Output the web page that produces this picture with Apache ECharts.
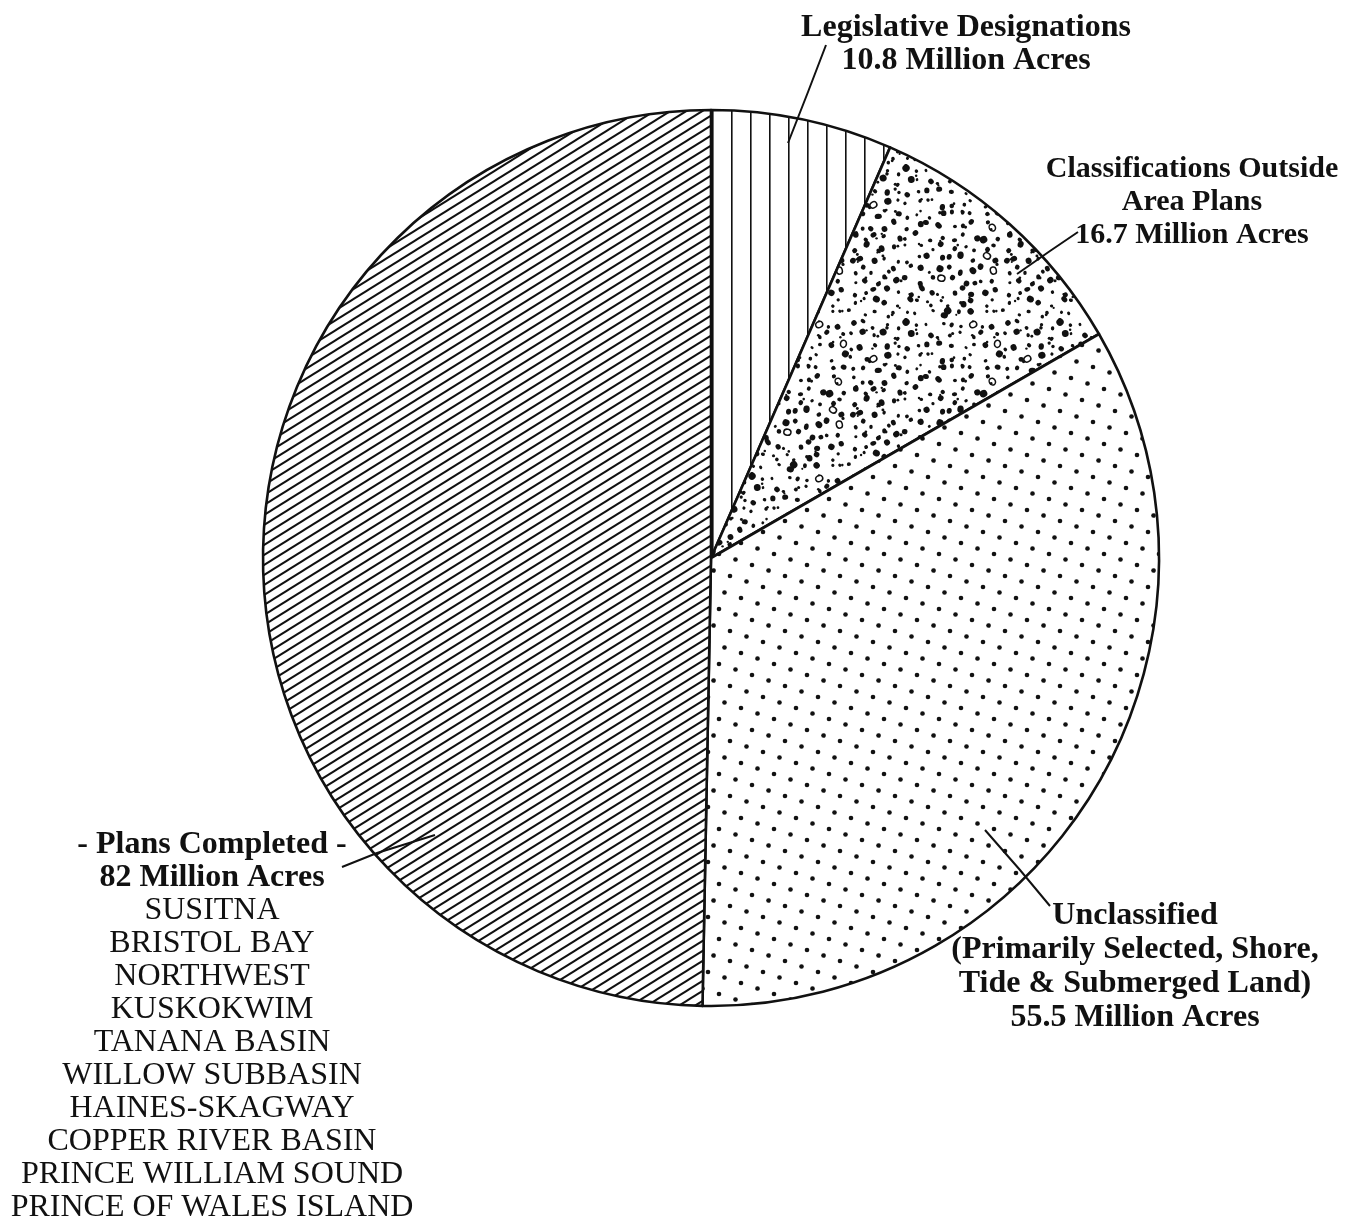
<!DOCTYPE html>
<html>
<head>
<meta charset="utf-8">
<script src="https://cdn.jsdelivr.net/npm/echarts@6/dist/echarts.min.js"></script>
<style>
  html, body { margin: 0; padding: 0; background: #fff; }
  #chart { width: 1368px; height: 1230px; }
</style>
</head>
<body>
<div id="chart"></div>
<script>
// ---- data ----
const categories = ['Legislative Designations', 'Classifications Outside Area Plans', 'Unclassified', 'Plans Completed'];
const acres = [10.8, 16.7, 55.5, 82];
const labelTexts = [
  'Legislative Designations\n10.8 Million Acres',
  'Classifications Outside\nArea Plans\n16.7 Million Acres',
  'Unclassified\n(Primarily Selected, Shore,\nTide & Submerged Land)\n55.5 Million Acres',
  '- Plans Completed -\n82 Million Acres'
];
const planAreas = ['SUSITNA', 'BRISTOL BAY', 'NORTHWEST', 'KUSKOKWIM', 'TANANA BASIN',
  'WILLOW SUBBASIN', 'HAINES-SKAGWAY', 'COPPER RIVER BASIN', 'PRINCE WILLIAM SOUND', 'PRINCE OF WALES ISLAND'];

// ---- fill patterns (textures only) ----
function mk(w, h) { const c = document.createElement('canvas'); c.width = w; c.height = h; const g = c.getContext('2d'); g.fillStyle = '#fff'; g.fillRect(0, 0, w, h); return [c, g]; }

function verticalLines() {
  const [c, g] = mk(19, 4);
  g.fillStyle = '#111'; g.fillRect(9, 0, 1.6, 4);
  return c;
}
function hatch() {
  const [c, g] = mk(16, 10);
  g.strokeStyle = '#111'; g.lineWidth = 2;
  for (let k = -4; k <= 6; k++) {
    const cc = k * 10;
    g.beginPath(); g.moveTo(-32, cc + 20); g.lineTo(48, cc - 30); g.stroke();
  }
  return c;
}
function dots() {
  const [c, g] = mk(55, 55);
  g.fillStyle = '#111';
  for (let i = -6; i <= 10; i++) for (let j = -6; j <= 10; j++) {
    const x = 4 + i * 16.5 - j * 5.5, y = 4 + i * 5.5 + j * 16.5;
    if (x < -5 || x > 60 || y < -5 || y > 60) continue;
    g.beginPath(); g.arc(x, y, 2.3, 0, Math.PI * 2); g.fill();
  }
  return c;
}
function stipple() {
  const cell = 11, N = 14, S = cell * N;
  const [c, g] = mk(S, S);
  let a = 987654321;
  const rnd = () => { a |= 0; a = a + 0x6D2B79F5 | 0; let t = Math.imul(a ^ a >>> 15, 1 | a); t = t + Math.imul(t ^ t >>> 7, 61 | t) ^ t; return ((t ^ t >>> 14) >>> 0) / 4294967296; };
  g.fillStyle = '#111'; g.strokeStyle = '#111';
  for (let iy = 0; iy < N; iy++) for (let ix = 0; ix < N; ix++) {
    const x = (ix + 0.5) * cell + (rnd() - 0.5) * 8, y = (iy + 0.5) * cell + (rnd() - 0.5) * 8;
    const r = 1.5 + Math.pow(rnd(), 1.3) * 2.3;
    const e = 0.6 + rnd() * 0.4, rot = rnd() * Math.PI;
    const ring = rnd() < 0.035;
    const extra = rnd() < 0.3;
    const ex = x + (rnd() - 0.5) * 8, ey = y + (rnd() - 0.5) * 8, er = 1.0 + rnd() * 0.7;
    for (const ox of [-S, 0, S]) for (const oy of [-S, 0, S]) {
      g.beginPath();
      if (ring) { g.lineWidth = 1.5; g.ellipse(x + ox, y + oy, 3.0, 3.6, rot, 0, Math.PI * 2); g.stroke(); }
      else { g.ellipse(x + ox, y + oy, r, r * e + 0.4, rot, 0, Math.PI * 2); g.fill(); }
      if (extra) { g.beginPath(); g.arc(ex + ox, ey + oy, er, 0, Math.PI * 2); g.fill(); }
    }
  }
  return c;
}
const patterns = [verticalLines(), stipple(), dots(), hatch()];

// ---- label placement (text anchors and leader lines) ----
const labelPlaces = [
  { x: 966, y: 11, size: 32, pts: [[788, 143], [808, 92], [826, 45]] },
  { x: 1192, y: 153, size: 30, pts: [[1017, 274], [1050, 251], [1078, 232]] },
  { x: 1135, y: 899, size: 32, pts: [[985, 830], [1020, 870], [1050, 906]] },
  { x: 212, y: 828, size: 32, pts: [[435, 835], [377, 853], [342, 867]] }
];

const FONT = '"Liberation Serif", "DejaVu Serif", serif';
const chart = echarts.init(document.getElementById('chart'), null, { renderer: 'canvas' });
chart.setOption({
  animation: false,
  backgroundColor: '#ffffff',
  graphic: labelPlaces.map(L => ({
    type: 'polyline', z: 100, silent: true,
    shape: { points: L.pts },
    style: { stroke: '#111', lineWidth: 2, fill: null }
  })),
  series: [{
    type: 'pie',
    center: [711, 558],
    radius: 448,
    startAngle: 90,
    clockwise: true,
    avoidLabelOverlap: false,
    emphasis: { disabled: true },
    silent: true,
    itemStyle: { borderColor: '#111', borderWidth: 2.6 },
    label: {
      show: true,
      position: 'outside',
      color: '#111',
      fontFamily: FONT,
      fontWeight: 'bold',
      fontSize: 31,
      lineHeight: 33,
      align: 'center'
    },
    labelLine: { show: false },
    labelLayout: function (p) {
      const L = labelPlaces[p.dataIndex];
      return { x: L.x, y: L.y, align: 'center', verticalAlign: 'top' };
    },
    data: categories.map((name, i) => {
      const d = { name: name, value: acres[i], itemStyle: { color: { image: patterns[i], repeat: 'repeat' } } };
      if (i === 3) {
        d.label = {
          formatter: () => labelTexts[3].split('\n').map(s => '{b|' + s + '}').join('\n') + '\n' +
            planAreas.map(s => '{r|' + s + '}').join('\n'),
          rich: {
            b: { fontFamily: FONT, fontWeight: 'bold', fontSize: labelPlaces[3].size, lineHeight: 33, color: '#111', align: 'center' },
            r: { fontFamily: FONT, fontWeight: 'normal', fontSize: 32, lineHeight: 33, color: '#111', align: 'center' }
          }
        };
      } else {
        d.label = { formatter: () => labelTexts[i], fontSize: labelPlaces[i].size, lineHeight: i === 2 ? 34 : 33 };
      }
      return d;
    })
  }]
});
</script>
</body>
</html>
